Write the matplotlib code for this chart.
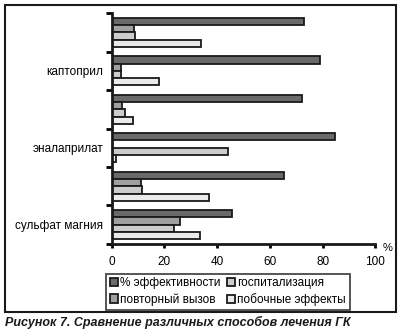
import matplotlib.pyplot as plt
from matplotlib.patches import Rectangle
import numpy as np

plt.rcParams['font.family'] = ['Liberation Sans', 'DejaVu Sans']

# groups from top to bottom, only every second one is labelled
groups = ['', 'каптоприл', '', 'эналаприлат', '', 'сульфат магния']
series = ['% эффективности', 'повторный вызов', 'госпитализация', 'побочные эффекты']
effect = [73, 79, 72, 84.5, 65.5, 45.5]
repeat_call = [8.5, 3.5, 4, 0, 11, 26]
hospital = [9, 3.5, 5, 44, 11.5, 23.5]
side_eff = [34, 18, 8, 1.5, 37, 33.5]
values = [effect, repeat_call, hospital, side_eff]
colors = ['#6a6a6a', '#a0a0a0', '#cccccc', '#ebebeb']
xticks = [0, 20, 40, 60, 80, 100]

fig = plt.figure(figsize=(4.02, 3.36), dpi=100)
ax = fig.add_axes([0.278, 0.274, 0.656, 0.687])

n = len(groups)
bh = 0.19
centers = np.arange(n)[::-1] + 0.5
handles = []
for i, (vals, c) in enumerate(zip(values, colors)):
    y = centers + (1.5 - i) * bh
    b = ax.barh(y, vals, height=bh, color=c, edgecolor='#1a1a1a', linewidth=1.3, label=series[i])
    handles.append(b)

ax.set_xlim(0, 100)
ax.set_ylim(0, n)
ax.set_xticks(xticks)
ax.set_xticklabels([str(t) for t in xticks], fontsize=8.5)
ax.set_yticks(np.arange(n + 1))
ax.set_yticklabels([])
ax.set_yticks(centers, labels=groups, minor=True)
ax.tick_params(axis='y', which='minor', length=0, labelsize=8.5, pad=6)
ax.tick_params(axis='y', which='major', length=4, width=2, direction='out')
ax.tick_params(axis='x', length=3, width=2, direction='out', pad=6)
for s in ['top', 'right']:
    ax.spines[s].set_visible(False)
for s in ['left', 'bottom']:
    ax.spines[s].set_linewidth(2)
    ax.spines[s].set_color('#1a1a1a')

fig.text(0.963, 0.262, '%', fontsize=8, ha='center', va='center')

leg = fig.legend(handles=handles, loc='center', bbox_to_anchor=(0.567, 0.132), ncol=2,
                 fontsize=8.5, frameon=True, fancybox=False, handlelength=0.7, handleheight=0.7,
                 handletextpad=0.2, columnspacing=0.5, labelspacing=0.35, borderpad=0.3,
                 borderaxespad=0)
leg.get_frame().set_edgecolor('#1a1a1a')
leg.get_frame().set_linewidth(1.3)

fig.patches.append(Rectangle((0.0124, 0.0714), 0.973, 0.914, transform=fig.transFigure,
                             fill=False, edgecolor='#1a1a1a', linewidth=1.5))

fig.text(0.012, 0.04, 'Рисунок 7. Сравнение различных способов лечения ГК', fontsize=9,
         fontweight='bold', fontstyle='italic', ha='left', va='center', color='#1a1a1a')

fig.savefig('out.png', dpi=100)
